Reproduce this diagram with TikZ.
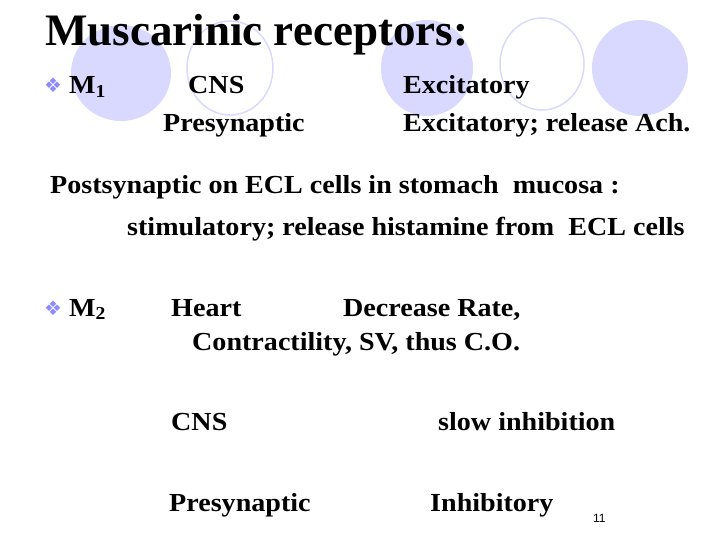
\documentclass[tikz,border=0pt]{standalone}
\usepackage{fontspec}
\setmainfont{Liberation Serif}
\newfontfamily\sansf{Liberation Sans}
\newfontfamily\dvs{DejaVu Sans}
\begin{document}
\begin{tikzpicture}[x=1pt,y=-1pt,
  t/.style={anchor=base west,inner sep=0,xscale=1.08,font=\bfseries\fontsize{26}{28}\selectfont},
  bl/.style={anchor=base west,inner sep=0,text=blue!45!white,font=\dvs\fontsize{20}{20}\selectfont},
  fc/.style={fill=blue!15!white,draw=none},
  oc/.style={draw=blue!15!white,line width=1.5pt}]
\useasboundingbox (0,0) rectangle (720,540);
\fill[fc] (121,73) ellipse (50 and 48);
\draw[oc] (230,68) ellipse (43 and 47);
\fill[fc] (427,68) ellipse (46 and 48);
\draw[oc] (542,64) ellipse (42 and 46);
\fill[fc] (640,68) ellipse (48 and 48);
\node[anchor=base west,inner sep=0,font=\bfseries\fontsize{45}{46}\selectfont] (ti) at (45,46) {Muscarinic receptors:};
\node[bl] (b1) at (44,93) {❖};
\node[t] (m1) at (69,94) {M\textsubscript{1}};
\node[t] (c1) at (188,94) {CNS};
\node[t] (e1) at (403,94) {Excitatory};
\node[t] (p1) at (163,132) {Presynaptic};
\node[t] (e2) at (403,132) {Excitatory; release Ach.};
\node[t] (ps) at (50,194) {Postsynaptic on ECL cells in stomach\ \ mucosa :};
\node[t] (st) at (127,236) {stimulatory; release histamine from\ \ ECL cells};
\node[bl] (b2) at (44,315) {❖};
\node[t] (m2) at (69,316) {M\textsubscript{2}};
\node[t] (h) at (171,316) {Heart};
\node[t] (dr) at (343,316) {Decrease Rate,};
\node[t] (co) at (192,350) {Contractility, SV, thus C.O.};
\node[t] (c2) at (171,430) {CNS};
\node[t] (si) at (438,430) {slow inhibition};
\node[t] (p2) at (169,511) {Presynaptic};
\node[t] (ih) at (430,511) {Inhibitory};
\node[anchor=base west,inner sep=0,font=\sansf\fontsize{12}{12}\selectfont] (n) at (593,522) {11};
\end{tikzpicture}
\end{document}
